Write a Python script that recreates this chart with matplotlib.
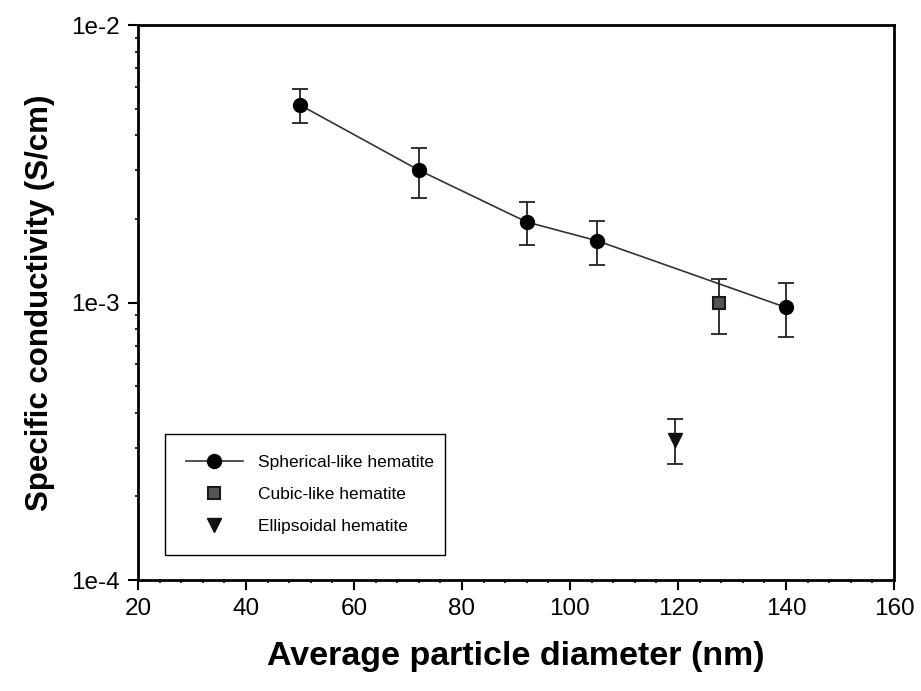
import matplotlib
matplotlib.use("Agg")
import matplotlib.pyplot as plt
from matplotlib.ticker import LogLocator, MultipleLocator, FixedFormatter, FixedLocator

plt.rcParams['font.family'] = ['Liberation Sans', 'DejaVu Sans']

# spherical-like hematite
sph_d = [50, 72, 92, 105, 140]
sph_s = [5.15e-3, 3.0e-3, 1.95e-3, 1.67e-3, 9.6e-4]
sph_lo = [4.45e-3, 2.38e-3, 1.61e-3, 1.37e-3, 7.5e-4]
sph_hi = [5.9e-3, 3.6e-3, 2.31e-3, 1.97e-3, 1.18e-3]

# cubic-like hematite
cub_d = [127.6]
cub_s = [1.0e-3]
cub_lo = [7.7e-4]
cub_hi = [1.22e-3]

# ellipsoidal hematite
ell_d = [119.5]
ell_s = [3.2e-4]
ell_lo = [2.62e-4]
ell_hi = [3.8e-4]

y_ticks = [1e-4, 1e-3, 1e-2]
y_tick_labels = ["1e-4", "1e-3", "1e-2"]


def err(vals, lo, hi):
    return [[v - l for v, l in zip(vals, lo)], [h - v for v, h in zip(vals, hi)]]


fig = plt.figure(figsize=(9.21, 6.91), dpi=100)
ax = fig.add_axes([0.1498, 0.1606, 0.8209, 0.8032])

ax.errorbar(sph_d, sph_s, yerr=err(sph_s, sph_lo, sph_hi), fmt='none',
            ecolor='#222222', elinewidth=1.3, capsize=5.5, capthick=1.3)
ax.plot(sph_d, sph_s, '-o', color='#333333', lw=1.2, ms=10,
        mfc='black', mec='black', label='Spherical-like hematite')

ax.errorbar(cub_d, cub_s, yerr=err(cub_s, cub_lo, cub_hi), fmt='none',
            ecolor='#222222', elinewidth=1.3, capsize=5.5, capthick=1.3)
ax.plot(cub_d, cub_s, 's', ms=8, mfc='#555555', mec='#1a1a1a', mew=1.5,
        ls='none', label='Cubic-like hematite')

ax.errorbar(ell_d, ell_s, yerr=err(ell_s, ell_lo, ell_hi), fmt='none',
            ecolor='#222222', elinewidth=1.3, capsize=5.5, capthick=1.3)
ax.plot(ell_d, ell_s, 'v', ms=10, color='#111111', ls='none',
        label='Ellipsoidal hematite')

ax.set_xlim(20, 160)
ax.set_yscale('log')
ax.set_ylim(1e-4, 1e-2)

ax.xaxis.set_major_locator(MultipleLocator(20))
ax.xaxis.set_minor_locator(MultipleLocator(4))
ax.yaxis.set_major_locator(FixedLocator(y_ticks))
ax.yaxis.set_major_formatter(FixedFormatter(y_tick_labels))
ax.yaxis.set_minor_locator(LogLocator(base=10, subs=range(2, 10)))

for side in ['left', 'bottom', 'top', 'right']:
    ax.spines[side].set_linewidth(2.0)
ax.tick_params(which='major', direction='out', length=7, width=1.5,
               labelsize=17.5, pad=6, top=False, right=False)
ax.tick_params(which='minor', direction='out', length=2.5, width=1.2,
               top=False, right=False)

ax.set_xlabel('Average particle diameter (nm)', fontsize=24.5, fontweight='bold', labelpad=15)
ax.set_ylabel('Specific conductivity (S/cm)', fontsize=22.5, fontweight='bold', labelpad=12)

leg = ax.legend(loc='lower left', bbox_to_anchor=(0.0357, 0.045, 0.37, 0.2),
                mode='expand', fontsize=12.5, frameon=True, fancybox=False,
                edgecolor='black', framealpha=1, borderaxespad=0,
                handlelength=3.3, handletextpad=0.85, labelspacing=0.98,
                borderpad=1.2)
leg.get_frame().set_linewidth(1.0)

plt.savefig("out.png", dpi=100)
